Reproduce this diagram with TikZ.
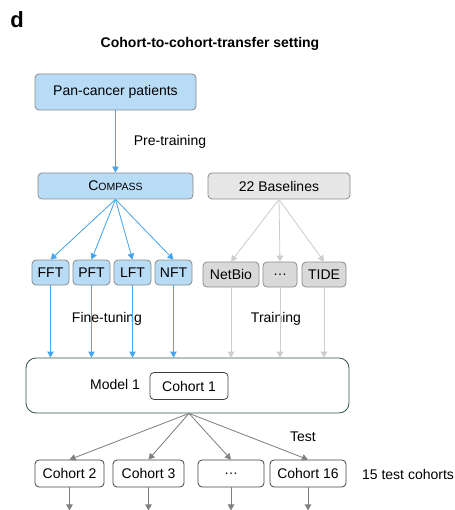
\documentclass[tikz,border=0pt]{standalone}
\usepackage{fontspec}
\setmainfont{Liberation Sans}
\usetikzlibrary{arrows.meta,positioning}
\definecolor{skyfill}{HTML}{B8DCF6}
\definecolor{skyline}{HTML}{48A6EE}
\definecolor{basefill}{HTML}{E6E6E6}
\definecolor{subfill}{HTML}{D9D9D9}
\definecolor{edge}{HTML}{8A8A8A}
\definecolor{lightarr}{HTML}{CDCDCD}
\definecolor{darkarr}{HTML}{808080}
\definecolor{frame}{HTML}{2F5548}

\begin{document}
\begin{tikzpicture}[x=1pt,y=-1pt, every node/.style={font=\fontsize{14}{16}\selectfont,inner sep=0pt}, box/.style={draw=edge,rounded corners=4pt,line width=0.8pt,align=center}, skybox/.style={box,fill=skyfill}, basebox/.style={box,fill=basefill}, subbox/.style={box,fill=subfill}, cohortbox/.style={box,draw=black!75,minimum height=27pt}, tip/.style={-{Triangle[length=6pt,width=6.5pt]},line width=0.8pt}, skyarr/.style={tip,draw=skyline,fill=skyline}, lightar/.style={tip,draw=lightarr,fill=lightarr}, darkar/.style={tip,draw=darkarr,fill=darkarr}]
\useasboundingbox (0,0) rectangle (454,510);
\node[font=\fontsize{22}{24}\selectfont\bfseries] (panel) at (17,20) {d};
\node[font=\fontsize{14}{16}\selectfont\bfseries] (title) at (210,44) {Cohort-to-cohort-transfer setting};
% pre-training
\node[skybox,minimum width=161pt,minimum height=36pt] (pan) at (115.5,92) {Pan-cancer patients};
\node[skybox,minimum width=155pt,minimum height=26pt] (compass) at (115.5,186) {C{\fontsize{10.5}{12}\selectfont OMPASS}};
\node[basebox,minimum width=142pt,minimum height=26pt] (base) at (279,186) {22 Baselines};
\node (pretrain) at (170,142) {Pre-training};
% fine-tuning variants
\node[skybox,minimum width=37pt,minimum height=25pt] (fft) at (50.5,272.5) {FFT};
\node[skybox,minimum width=37pt,minimum height=25pt] (pft) at (91.5,272.5) {PFT};
\node[skybox,minimum width=37pt,minimum height=25pt] (lft) at (132.5,272.5) {LFT};
\node[skybox,minimum width=37pt,minimum height=25pt] (nft) at (173.5,272.5) {NFT};
\node[subbox,minimum width=56pt,minimum height=25pt] (netbio) at (231,274.5) {NetBio};
\node[subbox,minimum width=34pt,minimum height=25pt] (bdots) at (280,274.5) {\ldots};
\node[subbox,minimum width=44pt,minimum height=25pt] (tide) at (324,274.5) {TIDE};
\node (finetune) at (107,319) {Fine-tuning};
\node (training) at (276,319) {Training};
% model and cohorts
\node[box,draw=frame,rounded corners=10pt,minimum width=323pt,minimum height=55pt] (model) at (187.5,385.5) {};
\node[cohortbox,minimum width=78pt] (c1) at (189,386) {Cohort 1};
\node (mlabel) at (115,384) {Model 1};
\coordinate (hub) at (c1 |- model.south);
\node[cohortbox,minimum width=69pt] (c2) at (69.5,473.5) {Cohort 2};
\node[cohortbox,minimum width=71pt] (c3) at (148.5,473.5) {Cohort 3};
\node[cohortbox,minimum width=66pt] (cdots) at (231,473.5) {\ldots};
\node[cohortbox,minimum width=76pt] (c16) at (308,473.5) {Cohort 16};
\node (test) at (303,437) {Test};
\node (ntest) at (408,474) {15 test cohorts};
\draw[skyarr] (pan)--(compass);
\foreach \v in {fft,pft,lft,nft} {\draw[skyarr] (compass.south)--(\v.north); \draw[skyarr] (\v.south)--(\v.south |- model.north);}
\foreach \v in {netbio,bdots,tide} {\draw[lightar] (base.south)--(\v.north); \draw[lightar] (\v.south)--(\v.south |- model.north);}
\foreach \v in {c2,c3,cdots,c16} {\draw[darkar] (hub)--(\v.north); \draw[darkar] (\v.south)--++(0,23);}
\end{tikzpicture}
\end{document}
